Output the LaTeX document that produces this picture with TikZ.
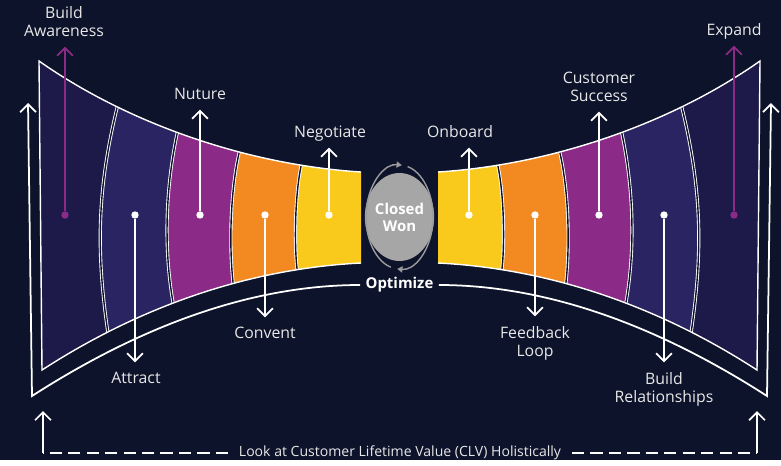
\documentclass[tikz,border=0pt]{standalone}
\usepackage{fontspec}
\setmainfont{Open Sans}
\usetikzlibrary{arrows.meta,positioning,shapes.geometric}
\definecolor{clvnight}{HTML}{0C132A}
\definecolor{clvink}{HTML}{1D1949}
\definecolor{clvindigo}{HTML}{2A2562}
\definecolor{clvplum}{HTML}{8C2A88}
\definecolor{clvorange}{HTML}{F28A21}
\definecolor{clvyellow}{HTML}{F9CA1B}
\definecolor{clvgrey}{HTML}{A6A6A6}
\definecolor{clvring}{HTML}{9C9C9C}
\definecolor{clvtext}{HTML}{E8E8E8}
\tikzset{
  rim/.style={draw=white,line width=0.8pt,line join=miter},
  divider/.style={draw=white,line width=0.5pt,double=clvnight,double distance=0.8pt},
  stagedot/.style={circle,fill=white,inner sep=0pt,minimum size=4.2pt},
  stagelbl/.style={text=clvtext,font=\fontsize{9}{10.3}\selectfont,align=center,inner sep=0pt,text depth=0pt},
  stagearrow/.style={draw=white,line width=1pt,-{Straight Barb[length=4.5pt,width=9pt]},shorten >=5.5pt},
  frameline/.style={draw=white,line width=1pt,-{Straight Barb[length=4.5pt,width=9pt]}},
  dashline/.style={draw=white,line width=1pt,dash pattern=on 7pt off 3.5pt},
  ringarrow/.style={draw=clvring,line width=0.8pt,-{Triangle[length=3pt,width=3.5pt]}},
  won/.style={ellipse,fill=clvgrey,minimum width=1.1cm,minimum height=1.76cm,inner sep=0pt,text=white,align=center,font=\bfseries\fontsize{8.5}{9.7}\selectfont},
  optlbl/.style={text=white,inner xsep=3pt,font=\bfseries\fontsize{8.5}{10}\selectfont},
  clvlbl/.style={text=clvtext,inner xsep=6pt,font=\fontsize{8}{10}\selectfont},
  halffunnel/.pic={
    \begin{scope}
      \clip (39,61) .. controls (130,125) and (250,165) .. (361,172) -- (361,263) .. controls (260,268) and (150,300) .. (42,370) -- cycle;
      \fill[clvyellow] (0,0) rectangle (400,460);
      \foreach \col/\tx/\ty/\mx/\bx/\by in {clvorange/303/158/294/298/275,clvplum/241/145/229/234/290,clvindigo/179/125/164/174/308,clvink/119/100/96/109/340}{
        \fill[\col] (0,0) -| (\tx,\ty) .. controls (\mx,190) and (\mx,255) .. (\bx,\by) |- (0,460) -- cycle;
        \draw[divider] (\tx,\ty) .. controls (\mx,190) and (\mx,255) .. (\bx,\by);}
    \end{scope}
    \draw[rim] (361,172) .. controls (250,165) and (130,125) .. (39,61) -- (42,370) .. controls (150,300) and (260,268) .. (361,263);
  },
}
\begin{document}
\begin{tikzpicture}[x=0.02cm,y=-0.02cm]
  \fill[clvnight] (0,0) rectangle (781,460);
  \pic at (0,0) {halffunnel};
  \pic[xscale=-1] at (799,0) {halffunnel};

  \node[won] (won) at (399.5,217) {Closed\\Won};
  \draw[ringarrow] (won.center) ++(105:33.5 and 52) arc[start angle=105,end angle=274,x radius=33.5,y radius=52];
  \draw[ringarrow] (won.center) ++(284:33.5 and 52) arc[start angle=284,end angle=454,x radius=33.5,y radius=52];

  \node[optlbl] (opt) at (399.5,285) {Optimize};
  \coordinate (flb) at (32,396); \coordinate (flt) at (28,103);
  \coordinate (frb) at (767,396); \coordinate (frt) at (771,103);
  \draw[frameline] (opt.west) .. controls (260,285) and (150,320) .. (flb) -- (flt);
  \draw[frameline] (opt.east) .. controls (539,285) and (649,320) .. (frb) -- (frt);

  \foreach \n/\x in {at/135,nu/200,co/265,ne/329,on/469,fe/535,cu/599,br/664}
    \node[stagedot] (d\n) at (\x,215) {};
  \node[stagedot,fill=clvplum] (daw) at (65,215) {};
  \node[stagedot,fill=clvplum] (dex) at (734,215) {};

  \node[stagelbl,anchor=south] (law) at (64,37) {Build\\Awareness};
  \node[stagelbl,anchor=south] (lnu) at (200,100) {Nuture};
  \node[stagelbl,anchor=south] (lne) at (330,138) {Negotiate};
  \node[stagelbl,anchor=south] (lon) at (460,138) {Onboard};
  \node[stagelbl,anchor=south] (lcu) at (599,102) {Customer\\Success};
  \node[stagelbl,anchor=south] (lex) at (734,36) {Expand};
  \node[stagelbl,anchor=north] (lat) at (136,372) {Attract};
  \node[stagelbl,anchor=north] (lco) at (265,327) {Convent};
  \node[stagelbl,anchor=north] (lfe) at (535,326) {Feedback\\Loop};
  \node[stagelbl,anchor=north] (lbr) at (664,372) {Build\\Relationships};

  \foreach \n in {nu,ne,on,cu} \draw[stagearrow] (d\n) -- (d\n |- l\n.south);
  \foreach \n in {at,co,fe,br} \draw[stagearrow] (d\n) -- (d\n |- l\n.north);
  \foreach \n in {aw,ex} \draw[stagearrow,draw=clvplum] (d\n) -- (d\n |- l\n.south);

  \node[clvlbl] (clv) at (400,453) {Look at Customer Lifetime Value (CLV) Holistically};
  \coordinate (dl) at (43,453); \coordinate (dlt) at (43,411);
  \coordinate (dr) at (757,453); \coordinate (drt) at (757,411);
  \draw[dashline] (clv.west) -- (dl);
  \draw[dashline] (clv.east) -- (dr);
  \draw[frameline] (dl) -- (dlt);
  \draw[frameline] (dr) -- (drt);
\end{tikzpicture}
\end{document}
